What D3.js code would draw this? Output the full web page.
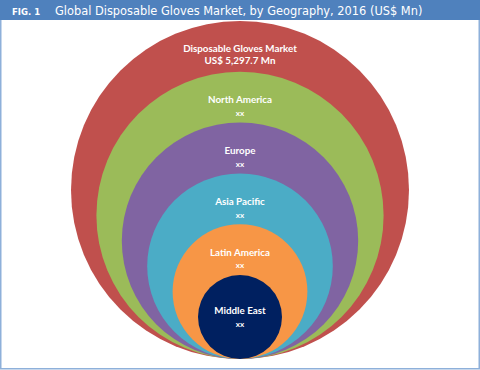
<!DOCTYPE html>
<html>
<head>
<meta charset="utf-8">
<script src="https://cdn.jsdelivr.net/npm/d3@7"></script>
<style>
  body { margin: 0; background: #fff; }
  svg { display: block; }
</style>
</head>
<body>
<svg id="chart"></svg>
<script>
// Chart data
const figLabel = 'FIG. 1';
const title = 'Global Disposable Gloves Market, by Geography, 2016 (US$ Mn)';
const regions = ['Disposable Gloves Market', 'North America', 'Europe', 'Asia Pacific', 'Latin America', 'Middle East'];
const values = ['US$ 5,297.7 Mn', 'xx', 'xx', 'xx', 'xx', 'xx'];
const colors = ['#c0504d', '#9bbb59', '#8064a2', '#4bacc6', '#f79646', '#002060'];

const width = 480, height = 370;
const headerH = 20;
const baseY = 359; // common tangent point of the nested circles
const cx = 240;

const svg = d3.select('#chart')
  .attr('width', width)
  .attr('height', height);

// nested circles, outer to inner
const r = d3.scaleLinear()
  .domain([0, regions.length - 1])
  .range([169, 42]);

const rows = regions.map((name, i) => ({ name, value: values[i], color: colors[i], r: r(i) }));

svg.append('g')
  .selectAll('circle')
  .data(rows)
  .join('circle')
  .attr('cx', cx)
  .attr('cy', d => baseY - d.r)
  .attr('r', d => d.r)
  .attr('fill', d => d.color);

// name line sits in the band between a circle's top and the next circle's top
const nameY = (d, i) => {
  if (i === rows.length - 1) return baseY - d.r - 6;
  const top = baseY - 2 * d.r;
  const nextTop = baseY - 2 * rows[i + 1].r;
  return (top + nextTop) / 2 + 2.5;
};

const labels = svg.append('g')
  .attr('font-family', 'Lato, "Open Sans", sans-serif')
  .attr('font-weight', 'bold')
  .attr('font-size', '9.8px')
  .attr('fill', '#fff')
  .attr('text-anchor', 'middle');

labels.selectAll('text.name')
  .data(rows)
  .join('text')
  .attr('class', 'name')
  .attr('x', cx)
  .attr('y', (d, i) => nameY(d, i))
  .attr('dy', '0.35em')
  .text(d => d.name);

labels.selectAll('text.value')
  .data(rows)
  .join('text')
  .attr('class', 'value')
  .attr('x', cx)
  .attr('y', (d, i) => nameY(d, i) + (i === 0 ? 12 : 13.5))
  .attr('dy', '0.35em')
  .attr('font-size', (d, i) => i === 0 ? '9.8px' : '8px')
  .text(d => d.value);

// header band
svg.append('rect')
  .attr('width', width)
  .attr('height', headerH)
  .attr('fill', '#4f81bd');

svg.append('text')
  .attr('x', 12)
  .attr('y', 14.5)
  .attr('font-family', '"DejaVu Sans", Verdana, sans-serif')
  .attr('font-weight', 'bold')
  .attr('font-size', '8.5px')
  .attr('fill', '#fff')
  .text(figLabel);

svg.append('text')
  .attr('x', 55)
  .attr('y', 15)
  .attr('font-family', '"DejaVu Sans", Verdana, sans-serif')
  .attr('font-size', '11.4px')
  .attr('fill', '#fff')
  .text(title);

// frame
svg.append('path')
  .attr('d', `M0.75,${headerH}V${height - 1.25}H${width - 0.75}V${headerH}`)
  .attr('fill', 'none')
  .attr('stroke', '#8eb0da')
  .attr('stroke-width', 1.5);
</script>
</body>
</html>
